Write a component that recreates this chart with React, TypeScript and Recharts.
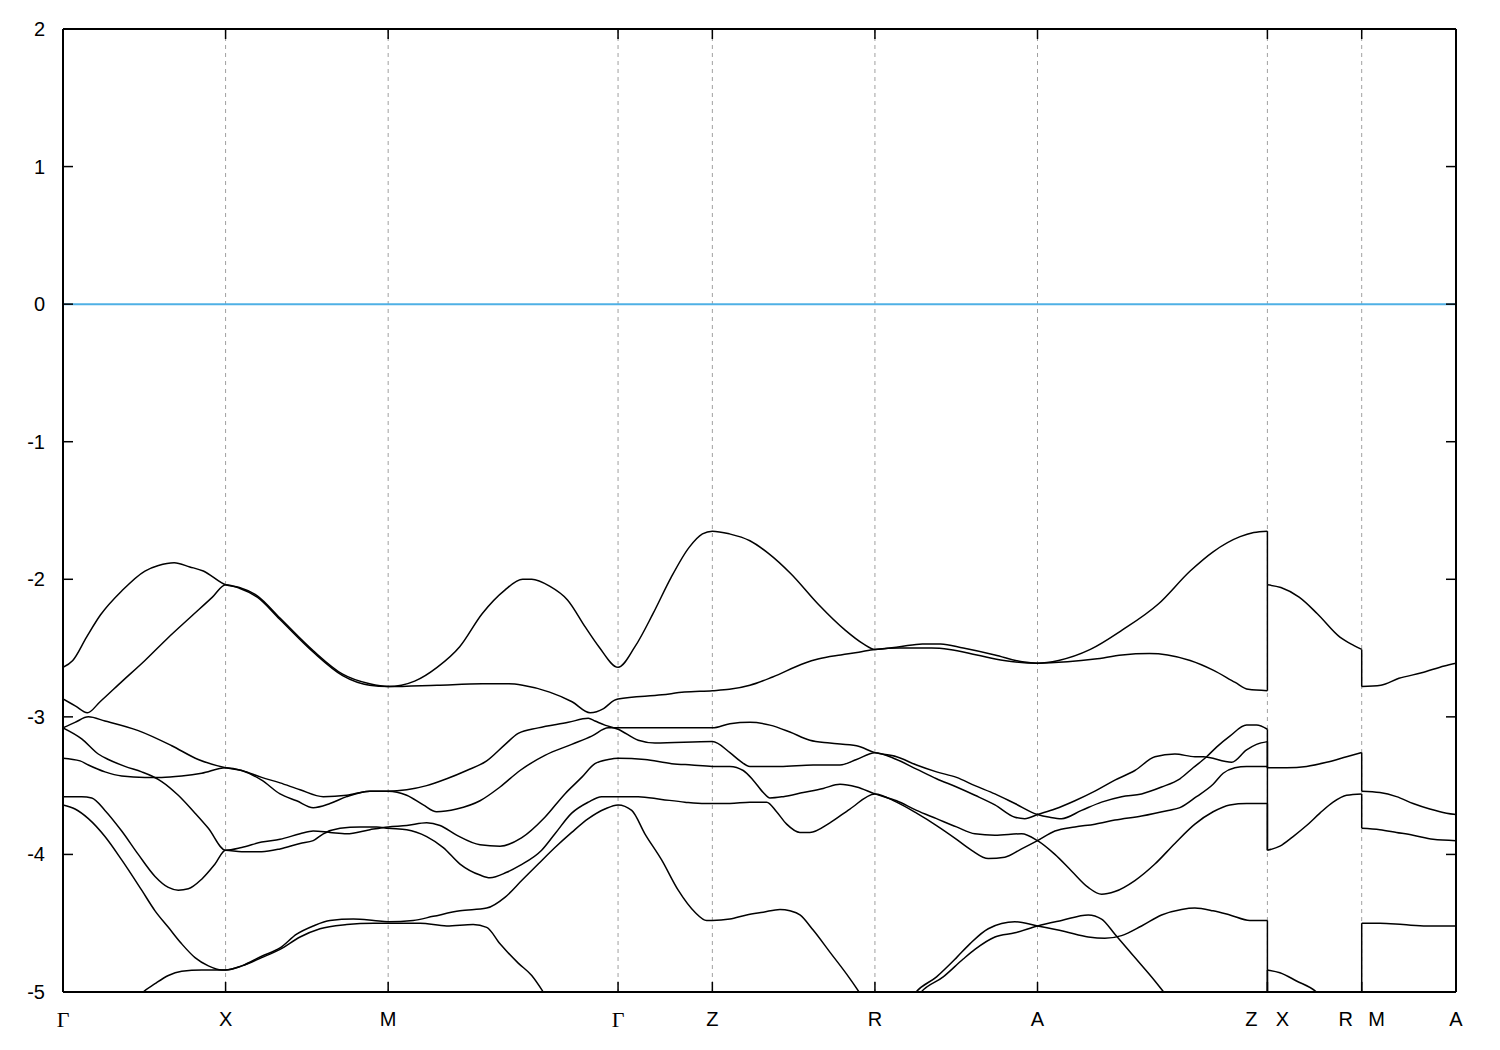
import React from "react";
import { LineChart, Line, XAxis, YAxis, CartesianGrid, ReferenceLine } from "recharts";

type Pt = [number, number];

// k-path positions of the labelled points (Γ-X = 1)
const kTicks = [0, 1, 2, 3.414, 3.994, 4.994, 5.994, 7.408, 7.988, 8.568];
const kLabels = ["Γ", "X", "M", "Γ", "Z", "R", "A", "Z|X", "R|M", "A"];
const eTicks = [-5, -4, -3, -2, -1, 0, 1, 2];
const fermiLevel = 0;
const belowWindow = -5.3;

// Γ-X-M-Γ-Z-R-A-Z  (energies in eV)
const band1: Pt[] = [
  [0, -2.64], [0.06, -2.59], [0.145, -2.42], [0.23, -2.26], [0.365, -2.08], [0.504, -1.94], [0.587, -1.9], [0.684, -1.88], [0.78, -1.91], [0.863, -1.94], [1, -2.04],
  [1.085, -2.06], [1.195, -2.12], [1.333, -2.28], [1.54, -2.52], [1.72, -2.69], [1.886, -2.76], [2, -2.78],
  [2.163, -2.74], [2.301, -2.64], [2.44, -2.49], [2.578, -2.25], [2.716, -2.08], [2.827, -2.0], [2.883, -2.0], [2.993, -2.05], [3.103, -2.15], [3.214, -2.35], [3.296, -2.49], [3.414, -2.64],
  [3.518, -2.49], [3.629, -2.25], [3.739, -1.99], [3.85, -1.77], [3.933, -1.67], [3.994, -1.65], [4.099, -1.67], [4.225, -1.72],
  [4.337, -1.81], [4.477, -1.96], [4.644, -2.18], [4.811, -2.37], [4.923, -2.47], [4.994, -2.51],
  [5.146, -2.49], [5.286, -2.47], [5.398, -2.47], [5.537, -2.5], [5.732, -2.55], [5.9, -2.6], [5.994, -2.61],
  [6.124, -2.59], [6.319, -2.51], [6.514, -2.37], [6.737, -2.18], [6.933, -1.94], [7.074, -1.8], [7.24, -1.69], [7.324, -1.66], [7.408, -1.65],
];

const band2: Pt[] = [
  [0, -2.87], [0.075, -2.92], [0.15, -2.97], [0.228, -2.89], [0.365, -2.74], [0.504, -2.59], [0.642, -2.43], [0.78, -2.28], [0.919, -2.13], [1, -2.04],
  [1.085, -2.065], [1.195, -2.13], [1.333, -2.29], [1.54, -2.53], [1.72, -2.7], [1.886, -2.77], [2, -2.78],
  [2.301, -2.77], [2.578, -2.76], [2.743, -2.76], [2.827, -2.77], [2.993, -2.82], [3.131, -2.89], [3.242, -2.97], [3.325, -2.94], [3.39, -2.88], [3.414, -2.87],
  [3.684, -2.84], [3.822, -2.82], [3.994, -2.81], [4.099, -2.8], [4.225, -2.77],
  [4.365, -2.71], [4.56, -2.61], [4.644, -2.58], [4.784, -2.55], [4.895, -2.53], [4.994, -2.51],
  [5.146, -2.5], [5.342, -2.5], [5.453, -2.51], [5.621, -2.55], [5.788, -2.59], [5.994, -2.61],
  [6.178, -2.6], [6.347, -2.58], [6.514, -2.55], [6.682, -2.54], [6.794, -2.55], [6.933, -2.59], [7.074, -2.66], [7.21, -2.75], [7.29, -2.8], [7.408, -2.81],
];

const band3: Pt[] = [
  [0, -3.08], [0.074, -3.04], [0.156, -3.0], [0.258, -3.03], [0.463, -3.1], [0.669, -3.21], [0.832, -3.31], [1, -3.37],
  [1.099, -3.39], [1.222, -3.44], [1.335, -3.48], [1.458, -3.53], [1.601, -3.58], [1.745, -3.57], [1.888, -3.54], [2, -3.54],
  [2.114, -3.53], [2.237, -3.5], [2.36, -3.45], [2.483, -3.39], [2.606, -3.32], [2.72, -3.2], [2.8, -3.12], [2.923, -3.08], [3.108, -3.04], [3.231, -3.01], [3.272, -3.03], [3.333, -3.06], [3.414, -3.09],
  [3.538, -3.17], [3.641, -3.19], [3.994, -3.18], [4.102, -3.26], [4.164, -3.32], [4.225, -3.36],
  [4.41, -3.36], [4.614, -3.35], [4.779, -3.35], [4.881, -3.31], [4.994, -3.26],
  [5.127, -3.31], [5.25, -3.38], [5.373, -3.45], [5.496, -3.51], [5.609, -3.57], [5.732, -3.64], [5.855, -3.73], [5.916, -3.74], [5.994, -3.71],
  [6.101, -3.67], [6.224, -3.61], [6.347, -3.54], [6.47, -3.46], [6.593, -3.39], [6.716, -3.29], [6.839, -3.27], [6.962, -3.29], [7.013, -3.29], [7.188, -3.33], [7.28, -3.24], [7.341, -3.2], [7.408, -3.18],
];

const band4: Pt[] = [
  [0, -3.08], [0.115, -3.16], [0.217, -3.27], [0.279, -3.31], [0.381, -3.36], [0.484, -3.4], [0.546, -3.43], [0.607, -3.47], [0.709, -3.57], [0.812, -3.7], [0.894, -3.81], [1, -3.97],
  [1.099, -3.95], [1.222, -3.91], [1.335, -3.89], [1.458, -3.85], [1.539, -3.83], [1.642, -3.84], [1.745, -3.85], [1.888, -3.82], [2, -3.8],
  [2.114, -3.79], [2.237, -3.77], [2.319, -3.79], [2.421, -3.86], [2.565, -3.93], [2.688, -3.94], [2.82, -3.88], [2.964, -3.73], [3.087, -3.56], [3.19, -3.44], [3.272, -3.34], [3.354, -3.31], [3.414, -3.3],
  [3.579, -3.31], [3.744, -3.34], [3.867, -3.35], [3.994, -3.36],
  [4.102, -3.36], [4.184, -3.39], [4.245, -3.46], [4.307, -3.55], [4.348, -3.59], [4.43, -3.58], [4.553, -3.55], [4.676, -3.52], [4.779, -3.49], [4.881, -3.51], [4.994, -3.56],
  [5.127, -3.61], [5.25, -3.68], [5.373, -3.74], [5.496, -3.8], [5.609, -3.85], [5.732, -3.86], [5.896, -3.85], [5.994, -3.9],
  [6.101, -4.0], [6.203, -4.12], [6.306, -4.24], [6.388, -4.29], [6.47, -4.27], [6.593, -4.19], [6.716, -4.07], [6.839, -3.92], [6.962, -3.78], [7.074, -3.69], [7.177, -3.64], [7.28, -3.63], [7.408, -3.63],
];

const band5: Pt[] = [
  [0, -3.3], [0.105, -3.32], [0.156, -3.35], [0.258, -3.4], [0.361, -3.43], [0.504, -3.44], [0.607, -3.44], [0.73, -3.43], [0.853, -3.41], [1, -3.37],
  [1.099, -3.39], [1.222, -3.46], [1.335, -3.56], [1.437, -3.61], [1.539, -3.66], [1.642, -3.63], [1.745, -3.58], [1.888, -3.54], [2, -3.54],
  [2.114, -3.57], [2.216, -3.64], [2.298, -3.69], [2.421, -3.67], [2.565, -3.61], [2.688, -3.51], [2.811, -3.39], [2.964, -3.28], [3.129, -3.2], [3.252, -3.14], [3.354, -3.08], [3.414, -3.08],
  [3.579, -3.08], [3.994, -3.08],
  [4.102, -3.05], [4.225, -3.04], [4.348, -3.06], [4.471, -3.11], [4.594, -3.17], [4.717, -3.19], [4.881, -3.21], [4.994, -3.26],
  [5.127, -3.29], [5.25, -3.35], [5.373, -3.4], [5.496, -3.44], [5.609, -3.5], [5.732, -3.56], [5.855, -3.63], [5.994, -3.71],
  [6.07, -3.73], [6.142, -3.74], [6.265, -3.68], [6.388, -3.62], [6.511, -3.58], [6.634, -3.56], [6.757, -3.51], [6.87, -3.45], [6.951, -3.37], [7.034, -3.29], [7.095, -3.22], [7.177, -3.14], [7.28, -3.06], [7.341, -3.06], [7.408, -3.09],
];

const band6: Pt[] = [
  [0, -3.58], [0.115, -3.58], [0.177, -3.59], [0.258, -3.68], [0.361, -3.83], [0.463, -4.0], [0.566, -4.16], [0.648, -4.24], [0.709, -4.26], [0.771, -4.25], [0.853, -4.18], [0.935, -4.07], [1, -3.97],
  [1.099, -3.98], [1.222, -3.98], [1.335, -3.96], [1.458, -3.92], [1.539, -3.9], [1.601, -3.85], [1.704, -3.81], [1.827, -3.8], [1.929, -3.8], [2, -3.81],
  [2.114, -3.82], [2.237, -3.87], [2.339, -3.95], [2.442, -4.07], [2.565, -4.15], [2.626, -4.17], [2.729, -4.13], [2.811, -4.08], [2.944, -3.97], [3.026, -3.85], [3.129, -3.7], [3.231, -3.62], [3.313, -3.58], [3.414, -3.58],
  [3.538, -3.58], [3.682, -3.6], [3.825, -3.62], [3.948, -3.63], [3.994, -3.63],
  [4.102, -3.63], [4.225, -3.62], [4.328, -3.62], [4.389, -3.69], [4.451, -3.78], [4.533, -3.84], [4.594, -3.84], [4.717, -3.77], [4.84, -3.67], [4.994, -3.56],
  [5.127, -3.62], [5.25, -3.7], [5.373, -3.79], [5.496, -3.89], [5.589, -3.97], [5.691, -4.03], [5.793, -4.02], [5.896, -3.96], [5.994, -3.9],
  [6.101, -3.83], [6.224, -3.8], [6.347, -3.78], [6.47, -3.75], [6.634, -3.72], [6.798, -3.68], [6.87, -3.66], [6.972, -3.58], [7.074, -3.49], [7.136, -3.41], [7.208, -3.37], [7.28, -3.36], [7.408, -3.36],
];

const band7: Pt[] = [
  [0, -3.64], [0.074, -3.67], [0.156, -3.74], [0.258, -3.87], [0.361, -4.04], [0.484, -4.26], [0.566, -4.41], [0.648, -4.53], [0.73, -4.65], [0.812, -4.75], [0.894, -4.81], [0.976, -4.84], [1, -4.84],
  [1.1, -4.81], [1.222, -4.74], [1.335, -4.68], [1.437, -4.58], [1.539, -4.52], [1.642, -4.48], [1.786, -4.47], [1.911, -4.48], [2, -4.49],
  [2.154, -4.48], [2.277, -4.45], [2.442, -4.41], [2.606, -4.39], [2.72, -4.31], [2.821, -4.19], [2.923, -4.07], [3.026, -3.95], [3.129, -3.84], [3.231, -3.74], [3.333, -3.67], [3.414, -3.64],
  [3.498, -3.68], [3.579, -3.85], [3.682, -4.04], [3.784, -4.26], [3.887, -4.42], [3.959, -4.48], [3.994, -4.48],
  [4.102, -4.47], [4.205, -4.44], [4.307, -4.42], [4.41, -4.4], [4.471, -4.41], [4.533, -4.44], [4.614, -4.55], [4.717, -4.71], [4.82, -4.87], [4.902, -5.01], [4.95, -5.1],
];

const band8: Pt[] = [
  [0.4, -5.15], [0.484, -5.01], [0.566, -4.94], [0.648, -4.88], [0.73, -4.85], [0.853, -4.84], [1, -4.84],
  [1.1, -4.81], [1.222, -4.75], [1.335, -4.69], [1.458, -4.6], [1.581, -4.54], [1.745, -4.51], [1.911, -4.5], [2, -4.5],
  [2.196, -4.5], [2.36, -4.52], [2.523, -4.51], [2.606, -4.53], [2.688, -4.65], [2.8, -4.79], [2.883, -4.88], [2.954, -5.0], [3.03, -5.15],
];

// bands coming back into the window between R and Z
const lower1: Pt[] = [
  [5.2, -5.08], [5.24, -5.01], [5.373, -4.89], [5.496, -4.75], [5.578, -4.65], [5.691, -4.54], [5.855, -4.49], [5.994, -4.52],
  [6.162, -4.56], [6.306, -4.6], [6.408, -4.61], [6.511, -4.59], [6.634, -4.52], [6.757, -4.44], [6.88, -4.4], [6.962, -4.39], [7.074, -4.41], [7.177, -4.44], [7.3, -4.48], [7.408, -4.48],
];
const lower2: Pt[] = [
  [5.23, -5.08], [5.271, -5.01], [5.414, -4.89], [5.537, -4.76], [5.609, -4.69], [5.732, -4.6], [5.855, -4.57], [5.994, -4.52],
  [6.142, -4.48], [6.306, -4.44], [6.388, -4.47], [6.47, -4.58], [6.593, -4.75], [6.716, -4.92], [6.777, -5.01], [6.83, -5.08],
];

// X-R
const xr1: Pt[] = [[7.408, -2.04], [7.491, -2.06], [7.603, -2.13], [7.715, -2.25], [7.854, -2.42], [7.938, -2.48], [7.988, -2.51]];
const xr2: Pt[] = [[7.408, -3.37], [7.526, -3.37], [7.649, -3.36], [7.772, -3.33], [7.895, -3.29], [7.988, -3.26]];
const xr3: Pt[] = [[7.408, -3.97], [7.485, -3.94], [7.566, -3.87], [7.649, -3.79], [7.731, -3.7], [7.812, -3.62], [7.895, -3.57], [7.988, -3.56]];
const xr4: Pt[] = [[7.408, -4.84], [7.485, -4.86], [7.587, -4.92], [7.71, -5.0], [7.76, -5.06]];

// M-A
const ma1: Pt[] = [[7.988, -2.78], [8.106, -2.77], [8.217, -2.72], [8.357, -2.68], [8.496, -2.63], [8.568, -2.61]];
const ma2: Pt[] = [[7.988, -3.54], [8.1, -3.55], [8.202, -3.58], [8.304, -3.63], [8.407, -3.67], [8.51, -3.7], [8.568, -3.71]];
const ma3: Pt[] = [[7.988, -3.81], [8.1, -3.82], [8.202, -3.84], [8.304, -3.86], [8.427, -3.89], [8.568, -3.9]];
const ma4: Pt[] = [[7.988, -4.5], [8.1, -4.5], [8.243, -4.51], [8.387, -4.52], [8.568, -4.52]];

const first = (p: Pt[]): Pt => p[0];
const last = (p: Pt[]): Pt => p[p.length - 1];

const smoothBands: Pt[][] = [
  band1, band2, band3, band4, band5, band6, band7, band8,
  lower1, lower2, xr1, xr2, xr3, xr4, ma1, ma2, ma3, ma4,
];

// vertical joins at the path breaks Z|X and R|M
const jumps: Pt[][] = [
  [last(band1), first(xr1)],
  [last(band2), first(xr1)],
  [last(band3), first(xr2)],
  [last(band5), first(xr2)],
  [last(band4), first(xr3)],
  [last(band6), first(xr3)],
  [last(lower1), [7.408, belowWindow]],
  [[7.408, belowWindow], first(xr4)],
  [last(xr1), first(ma1)],
  [last(xr2), first(ma2)],
  [last(xr3), first(ma3)],
  [[7.988, belowWindow], first(ma4)],
];

const rows = (p: Pt[]) => p.map(([k, e]) => ({ k, e }));

const SANS = "'Liberation Sans', Arial, Helvetica, sans-serif";
const SERIF = "'Liberation Serif', 'DejaVu Serif', serif";

function LeftTick({ x, y, payload }: any) {
  return (
    <g>
      <line x1={x} y1={y} x2={x + 10} y2={y} stroke="#000" strokeWidth={1.5} />
      <text x={x - 18} y={y} textAnchor="end" dominantBaseline="central" fontSize={20} fontFamily={SANS} fill="#000">
        {payload.value}
      </text>
    </g>
  );
}

function RightTick({ x, y }: any) {
  return <line x1={x} y1={y} x2={x - 10} y2={y} stroke="#000" strokeWidth={1.5} />;
}

function TopTick({ x, y }: any) {
  return <line x1={x} y1={y} x2={x} y2={y + 10} stroke="#000" strokeWidth={1.5} />;
}

function BottomTick({ x, y, payload }: any) {
  const i = kTicks.indexOf(payload.value);
  const parts = (kLabels[i] ?? "").split("|");
  const ly = y + 27;
  const label = (s: string, lx: number, key: string) => (
    <text
      key={key}
      x={lx}
      y={ly}
      textAnchor="middle"
      dominantBaseline="central"
      fontSize={s === "Γ" ? 22 : 20}
      fontFamily={s === "Γ" ? SERIF : SANS}
      fill="#000"
    >
      {s}
    </text>
  );
  return (
    <g>
      <line x1={x} y1={y} x2={x} y2={y - 10} stroke="#000" strokeWidth={1.5} />
      {parts.length === 2
        ? [label(parts[0], x - 16, "a"), label(parts[1], x + 15, "b")]
        : label(parts[0], x, "a")}
    </g>
  );
}

export default function App() {
  const frame = { stroke: "#000", strokeWidth: 2 };
  return (
    <div style={{ width: 1500, height: 1050, background: "#fff" }}>
      <style>{`body{margin:0;background:#fff}`}</style>
      <LineChart width={1500} height={1050} margin={{ top: 28, right: 43, bottom: 0, left: 0 }}>
        <CartesianGrid
          xAxisId="b"
          yAxisId="l"
          horizontal={false}
          stroke="#a0a0a0"
          strokeDasharray="4 4"
        />
        <XAxis
          xAxisId="b"
          dataKey="k"
          type="number"
          domain={[0, 8.568]}
          ticks={kTicks}
          interval={0}
          allowDataOverflow
          height={58}
          tickSize={0}
          tickMargin={0}
          tickLine={false}
          axisLine={frame}
          tick={(p: any) => <BottomTick {...p} />}
        />
        <XAxis
          xAxisId="t"
          orientation="top"
          dataKey="k"
          type="number"
          domain={[0, 8.568]}
          ticks={kTicks}
          interval={0}
          allowDataOverflow
          height={1}
          tickSize={0}
          tickMargin={0}
          tickLine={false}
          axisLine={frame}
          tick={(p: any) => <TopTick {...p} />}
        />
        <YAxis
          yAxisId="l"
          type="number"
          domain={[-5, 2]}
          ticks={eTicks}
          interval={0}
          allowDataOverflow
          width={63}
          tickSize={0}
          tickMargin={0}
          tickLine={false}
          axisLine={frame}
          tick={(p: any) => <LeftTick {...p} />}
        />
        <YAxis
          yAxisId="r"
          orientation="right"
          type="number"
          domain={[-5, 2]}
          ticks={eTicks}
          interval={0}
          allowDataOverflow
          width={1}
          tickSize={0}
          tickMargin={0}
          tickLine={false}
          axisLine={frame}
          tick={(p: any) => <RightTick {...p} />}
        />
        <ReferenceLine xAxisId="b" yAxisId="l" y={fermiLevel} stroke="#4fb0e5" strokeWidth={2} />
        {smoothBands.map((b, i) => (
          <Line
            key={`b${i}`}
            xAxisId="b"
            yAxisId="l"
            data={rows(b)}
            dataKey="e"
            type="monotone"
            stroke="#000"
            strokeWidth={1.5}
            dot={false}
            activeDot={false}
            isAnimationActive={false}
          />
        ))}
        {jumps.map((b, i) => (
          <Line
            key={`j${i}`}
            xAxisId="b"
            yAxisId="l"
            data={rows(b)}
            dataKey="e"
            type="linear"
            stroke="#000"
            strokeWidth={1.5}
            dot={false}
            activeDot={false}
            isAnimationActive={false}
          />
        ))}
      </LineChart>
    </div>
  );
}
